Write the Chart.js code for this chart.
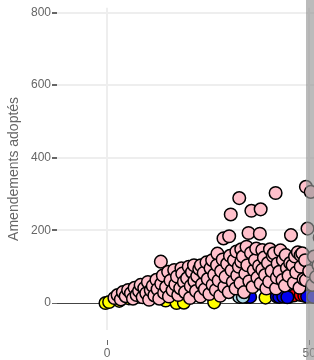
<!DOCTYPE html>
<html>
<head>
<meta charset="utf-8">
<script src="https://cdn.jsdelivr.net/npm/chart.js@4/dist/chart.umd.min.js"></script>
<style>
  html, body { margin: 0; padding: 0; background: #fff; overflow: hidden; }
  #wrap { position: relative; width: 519px; height: 360px; }
  #bar { position: absolute; left: 306px; top: 0; width: 8px; height: 360px; background: rgba(150, 150, 150, 0.65); }
</style>
</head>
<body>
<div id="wrap"><canvas id="amendChart"></canvas></div>
<div id="bar"></div>
<script>
const yTitle = "Amendements adoptés";
const xTickValues = [0, 50];
const yTickValues = [0, 200, 400, 600, 800];

// [articles, amendements]
const pinkPoints = [
  [1.8, 14], [2.6, 22], [3.4, 10], [3.9, 30], [4.6, 19], [5.2, 36], [5.9, 27], [6.4, 12], [6.8, 42], [7.3, 22],
  [7.9, 33], [8.3, 50], [8.8, 16], [9.2, 41], [9.7, 27], [10.1, 58], [10.4, 9], [10.8, 35], [11.3, 47], [11.7, 21],
  [12.2, 64], [12.5, 38], [12.9, 12], [13.3, 114], [13.4, 53], [13.8, 76], [14.1, 28], [14.6, 44], [15.1, 86], [15.3, 18],
  [15.7, 62], [16.2, 35], [16.6, 91], [16.9, 51], [17.3, 73], [17.6, 22], [18.1, 41], [18.4, 96], [18.6, 81], [19.0, 58],
  [19.3, 30], [19.8, 68], [20.2, 100], [20.5, 14], [20.7, 47], [21.0, 85], [21.5, 104], [21.6, 60], [22.0, 33], [22.3, 74],
  [22.8, 94], [23.2, 104], [23.1, 18], [23.5, 52], [23.9, 83], [24.2, 38], [24.6, 112], [24.9, 66], [25.3, 25], [25.6, 96],
  [26.0, 118], [26.1, 50], [26.5, 78], [26.9, 36], [27.3, 136], [27.2, 104], [27.6, 62], [28.0, 20], [28.2, 88], [28.8, 178],
  [28.6, 120], [29.0, 45], [29.3, 72], [29.7, 108], [30.1, 30], [30.2, 184], [30.4, 130], [30.6, 244], [30.8, 90], [31.1, 58],
  [31.4, 118], [31.8, 40], [32.0, 142], [32.2, 76], [32.7, 289], [32.6, 100], [33.0, 55], [33.2, 114], [33.2, 148], [33.6, 128],
  [33.9, 30], [34.2, 81], [34.5, 155], [34.7, 104], [35.0, 193], [35.2, 60], [35.6, 138], [35.7, 254], [36.0, 44], [36.3, 90],
  [36.6, 118], [36.9, 150], [37.2, 70], [37.6, 102], [38.0, 258], [37.8, 191], [38.0, 54], [38.4, 146], [38.4, 92], [38.8, 125],
  [39.1, 77], [39.4, 40], [39.8, 110], [40.1, 59], [40.3, 148], [40.7, 88], [41.0, 130], [41.3, 137], [41.7, 303], [41.8, 40],
  [42.0, 70], [42.2, 109], [42.6, 86], [42.9, 145], [43.4, 63], [43.5, 118], [44.0, 48], [44.2, 132], [44.5, 96], [44.9, 75],
  [45.3, 110], [45.5, 187], [45.9, 104], [46.2, 56], [46.5, 128], [46.8, 84], [47.2, 140], [47.6, 42], [47.9, 100], [47.9, 132],
  [48.3, 137], [48.6, 66], [49.0, 118], [49.2, 63], [49.6, 205], [49.2, 320], [50.0, 88], [50.4, 306], [50.8, 50], [51.2, 128],
  [51.7, 72], [52.3, 104], [52.6, 180], [53.0, 140]
];
const lightBluePoints = [[32.7, 17], [33.6, 17]];
const bluePoints = [[34.5, 17], [35.4, 17], [42, 18], [42.6, 17], [43.6, 18], [44.6, 16], [49.5, 18], [51, 17], [53, 18]];
const redPoints = [[21.5, 28], [44.5, 18], [45, 17], [46.2, 21], [47.9, 22], [48.8, 20]];
const yellowPoints = [
  [-0.4, 0], [0.5, 3], [3, 6], [5.4, 13], [14.5, 7], [17.2, 0],
  [19, 1], [20.1, 45], [26.5, 2], [39.2, 15], [45.8, 33]
];

function toXY(list) {
  return list.map(p => ({ x: p[0], y: p[1] }));
}

function makeSet(list, color) {
  return {
    data: toXY(list),
    backgroundColor: color,
    borderColor: "#000",
    borderWidth: 1.5,
    pointRadius: 6.3,
    pointHoverRadius: 6.3
  };
}

/* small x tick marks sitting below the plot */
const xTickMarks = {
  id: "xTickMarks",
  afterDraw(chart) {
    const ctx = chart.ctx;
    const xs = chart.scales.x;
    ctx.save();
    ctx.strokeStyle = "#666";
    ctx.lineWidth = 1;
    xs.ticks.forEach(t => {
      const px = Math.round(xs.getPixelForValue(t.value)) + 0.5;
      ctx.beginPath();
      ctx.moveTo(px, 340);
      ctx.lineTo(px, 345);
      ctx.stroke();
    });
    ctx.restore();
  }
};

let ctx = document.getElementById("amendChart").getContext("2d");
let chart = new Chart(ctx, {
  type: "scatter",
  data: {
    datasets: [
      makeSet(pinkPoints, "#ffc0cb"),
      makeSet(lightBluePoints, "#add8e6"),
      makeSet(bluePoints, "#0000ee"),
      makeSet(redPoints, "#ff0000"),
      makeSet(yellowPoints, "#ffff00")
    ]
  },
  options: {
    responsive: true,
    maintainAspectRatio: false,
    animation: false,
    layout: { padding: 0 },
    plugins: { legend: { display: false }, tooltip: { enabled: false } },
    scales: {
      x: {
        type: "linear",
        min: -12.4,
        max: 100,
        afterBuildTicks: s => { s.ticks = xTickValues.map(v => ({ value: v })); },
        afterFit: s => { s.height = 30; s.paddingLeft = 0; s.paddingRight = 0; },
        border: { display: false },
        grid: { color: "#eeeeee", lineWidth: 2, drawTicks: false },
        ticks: { color: "#666", padding: 16, font: { family: "Liberation Sans, Arial", size: 12 } }
      },
      y: {
        min: -74.2,
        max: 813,
        afterBuildTicks: s => { s.ticks = yTickValues.map(v => ({ value: v })); },
        afterFit: s => { s.width = 57; s.paddingTop = 0; s.paddingBottom = 0; },
        border: { display: false },
        grid: {
          color: c => (c.tick && c.tick.value === 0 ? "#444" : "#eeeeee"),
          lineWidth: c => (c.tick && c.tick.value === 0 ? 1 : 2),
          tickColor: "#666",
          tickLength: 5
        },
        ticks: { color: "#666", padding: 1, font: { family: "Liberation Sans, Arial", size: 12 } },
        title: {
          display: true,
          text: yTitle,
          color: "#666",
          padding: { top: 6, bottom: 0 },
          font: { family: "Liberation Sans, Arial", size: 14 }
        }
      }
    }
  },
  plugins: [xTickMarks]
});
</script>
</body>
</html>
